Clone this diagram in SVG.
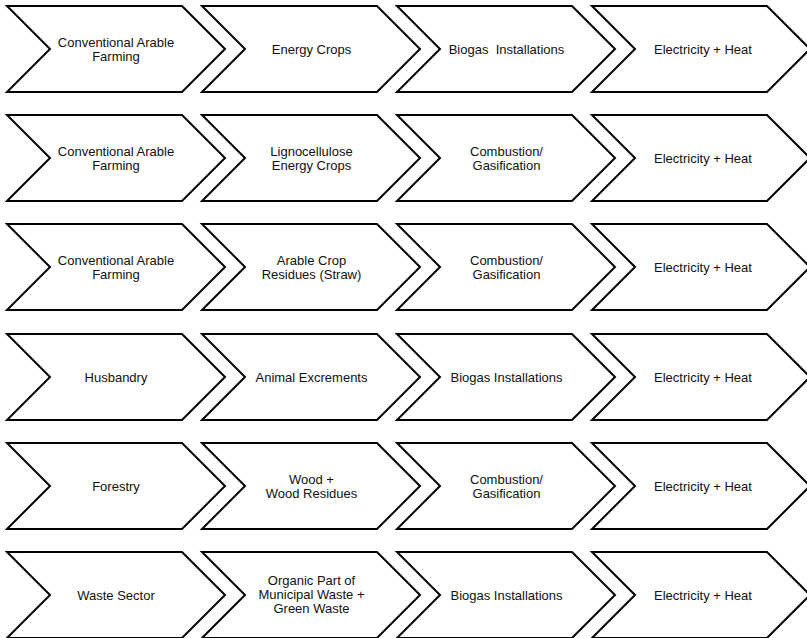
<svg xmlns="http://www.w3.org/2000/svg" xmlns:xlink="http://www.w3.org/1999/xlink" width="807" height="638" viewBox="0 0 807 638">
<style>
.ch{fill:#fff;stroke:#000;stroke-width:2;stroke-linejoin:miter;stroke-miterlimit:10}
.t{font-family:"Liberation Sans",Arial,sans-serif;font-size:13px;fill:#111;text-anchor:middle;white-space:pre}
</style>
<defs>
<path id="chev" d="M0,0 H175 L218,43 L175,86 H0 L43,43 Z"/>
</defs>
<rect width="807" height="638" fill="#fff"/>
<!-- Row 1 -->
<g id="r1c1"><use xlink:href="#chev" class="ch" transform="translate(7,6)"/><text class="t" x="116" y="47">Conventional Arable<tspan x="116" dy="14">Farming</tspan></text></g>
<g id="r1c2"><use xlink:href="#chev" class="ch" transform="translate(202,6)"/><text class="t" x="311.5" y="53.5">Energy Crops</text></g>
<g id="r1c3"><use xlink:href="#chev" class="ch" transform="translate(397,6)"/><text class="t" x="506.5" y="53.5">Biogas  Installations</text></g>
<g id="r1c4"><use xlink:href="#chev" class="ch" transform="translate(592,6)"/><text class="t" x="703" y="53.5">Electricity + Heat</text></g>
<!-- Row 2 -->
<g id="r2c1"><use xlink:href="#chev" class="ch" transform="translate(7,115)"/><text class="t" x="116" y="156">Conventional Arable<tspan x="116" dy="14">Farming</tspan></text></g>
<g id="r2c2"><use xlink:href="#chev" class="ch" transform="translate(202,115)"/><text class="t" x="311.5" y="156">Lignocellulose<tspan x="311.5" dy="14">Energy Crops</tspan></text></g>
<g id="r2c3"><use xlink:href="#chev" class="ch" transform="translate(397,115)"/><text class="t" x="506.5" y="156">Combustion/<tspan x="506.5" dy="14">Gasification</tspan></text></g>
<g id="r2c4"><use xlink:href="#chev" class="ch" transform="translate(592,115)"/><text class="t" x="703" y="162.5">Electricity + Heat</text></g>
<!-- Row 3 -->
<g id="r3c1"><use xlink:href="#chev" class="ch" transform="translate(7,224)"/><text class="t" x="116" y="265">Conventional Arable<tspan x="116" dy="14">Farming</tspan></text></g>
<g id="r3c2"><use xlink:href="#chev" class="ch" transform="translate(202,224)"/><text class="t" x="311.5" y="265">Arable Crop<tspan x="311.5" dy="14">Residues (Straw)</tspan></text></g>
<g id="r3c3"><use xlink:href="#chev" class="ch" transform="translate(397,224)"/><text class="t" x="506.5" y="265">Combustion/<tspan x="506.5" dy="14">Gasification</tspan></text></g>
<g id="r3c4"><use xlink:href="#chev" class="ch" transform="translate(592,224)"/><text class="t" x="703" y="271.5">Electricity + Heat</text></g>
<!-- Row 4 -->
<g id="r4c1"><use xlink:href="#chev" class="ch" transform="translate(7,334)"/><text class="t" x="116" y="381.5">Husbandry</text></g>
<g id="r4c2"><use xlink:href="#chev" class="ch" transform="translate(202,334)"/><text class="t" x="311.5" y="381.5">Animal Excrements</text></g>
<g id="r4c3"><use xlink:href="#chev" class="ch" transform="translate(397,334)"/><text class="t" x="506.5" y="381.5">Biogas Installations</text></g>
<g id="r4c4"><use xlink:href="#chev" class="ch" transform="translate(592,334)"/><text class="t" x="703" y="381.5">Electricity + Heat</text></g>
<!-- Row 5 -->
<g id="r5c1"><use xlink:href="#chev" class="ch" transform="translate(7,443)"/><text class="t" x="116" y="490.5">Forestry</text></g>
<g id="r5c2"><use xlink:href="#chev" class="ch" transform="translate(202,443)"/><text class="t" x="311.5" y="484">Wood +<tspan x="311.5" dy="14">Wood Residues</tspan></text></g>
<g id="r5c3"><use xlink:href="#chev" class="ch" transform="translate(397,443)"/><text class="t" x="506.5" y="484">Combustion/<tspan x="506.5" dy="14">Gasification</tspan></text></g>
<g id="r5c4"><use xlink:href="#chev" class="ch" transform="translate(592,443)"/><text class="t" x="703" y="490.5">Electricity + Heat</text></g>
<!-- Row 6 -->
<g id="r6c1"><use xlink:href="#chev" class="ch" transform="translate(7,552)"/><text class="t" x="116" y="599.5">Waste Sector</text></g>
<g id="r6c2"><use xlink:href="#chev" class="ch" transform="translate(202,552)"/><text class="t" x="311.5" y="585">Organic Part of<tspan x="311.5" dy="14">Municipal Waste +</tspan><tspan x="311.5" dy="14">Green Waste</tspan></text></g>
<g id="r6c3"><use xlink:href="#chev" class="ch" transform="translate(397,552)"/><text class="t" x="506.5" y="599.5">Biogas Installations</text></g>
<g id="r6c4"><use xlink:href="#chev" class="ch" transform="translate(592,552)"/><text class="t" x="703" y="599.5">Electricity + Heat</text></g>
</svg>
